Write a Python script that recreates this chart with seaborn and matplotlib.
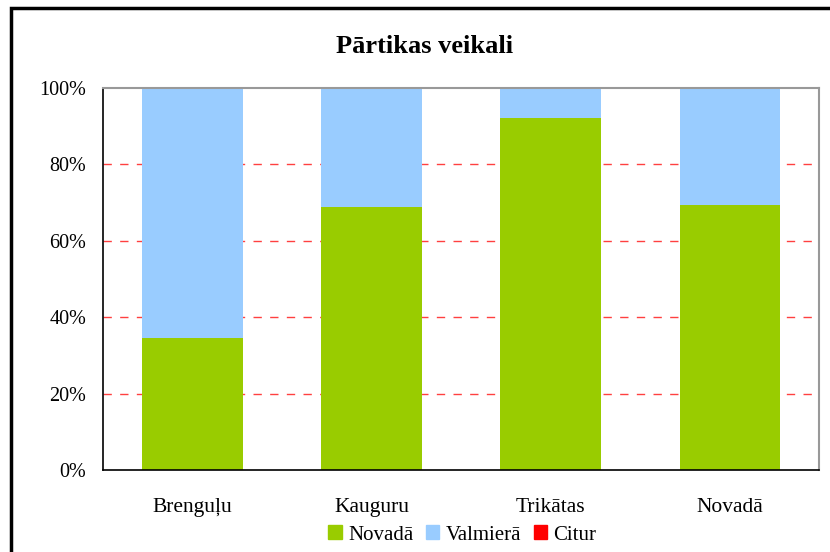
import matplotlib.pyplot as plt
import matplotlib.patches as mpatches
import matplotlib.ticker as mtick
import numpy as np
import pandas as pd
import seaborn as sns

sns.set_style("white")
plt.rcParams['font.family'] = ['Liberation Serif', 'DejaVu Serif']
plt.rcParams['text.color'] = 'black'
plt.rcParams['xtick.color'] = 'black'
plt.rcParams['ytick.color'] = 'black'

# dati
kategorijas = ["Brenguļu", "Kauguru", "Trikātas", "Novadā"]
novada = [34.6, 68.8, 92.1, 69.4]
valmiera = [65.4, 31.2, 7.9, 30.6]
citur = [0.0, 0.0, 0.0, 0.0]

serijas = ["Novadā", "Valmierā", "Citur"]
krasas = ["#99cc00", "#99ccff", "#ff0000"]

df = pd.DataFrame({"kat": kategorijas, "Novadā": novada,
                   "Valmierā": valmiera, "Citur": citur})
# kumulatīvās summas, lai sakrautu stabiņus
df["Novadā_c"] = df["Novadā"]
df["Valmierā_c"] = df["Novadā"] + df["Valmierā"]
df["Citur_c"] = df["Valmierā_c"] + df["Citur"]

fig = plt.figure(figsize=(8.3, 5.52), dpi=100)
ax = fig.add_axes([0.124, 0.1486, 0.863, 0.692])

for s, c in zip(serijas[::-1], krasas[::-1]):
    sns.barplot(data=df, x="kat", y=s + "_c", color=c, width=0.56,
                saturation=1, linewidth=0, ax=ax, zorder=2)

ax.set_ylim(0, 100)
ax.set_xlim(-0.5, 3.5)
ax.yaxis.set_major_locator(mtick.MultipleLocator(20))
ax.yaxis.set_major_formatter(mtick.PercentFormatter(decimals=0))
ax.set_xlabel("")
ax.set_ylabel("")
ax.tick_params(axis='both', length=0)
ax.tick_params(axis='x', labelsize=15.5, pad=20)
ax.tick_params(axis='y', labelsize=14.5, pad=12)

for yv in [20, 40, 60, 80]:
    ax.axhline(yv, color="#ff4040", ls=(0, (6, 6)), lw=1, zorder=1)

for side in ["left", "bottom"]:
    ax.spines[side].set_color("black")
    ax.spines[side].set_linewidth(1.2)
for side in ["top", "right"]:
    ax.spines[side].set_color("#999999")
    ax.spines[side].set_linewidth(1.5)

fig.text(0.511, 0.915, "Pārtikas veikali", fontsize=19, fontweight="bold",
         color="black", ha="center", va="center")

handles = [mpatches.Patch(color=c, label=s) for s, c in zip(serijas, krasas)]
fig.legend(handles=handles, loc="center", bbox_to_anchor=(0.557, 0.031),
           ncol=3, frameon=False, fontsize=15, handlelength=0.65,
           handleheight=0.65, handletextpad=0.3, columnspacing=0.6)

# ārējais rāmis
fig.patches.append(mpatches.Rectangle((11 / 830, -0.1), 1.0, 1 - 8 / 552 + 0.1,
                                      transform=fig.transFigure, fill=False,
                                      edgecolor="black", lw=2.5))

fig.savefig("out.png", dpi=100)
